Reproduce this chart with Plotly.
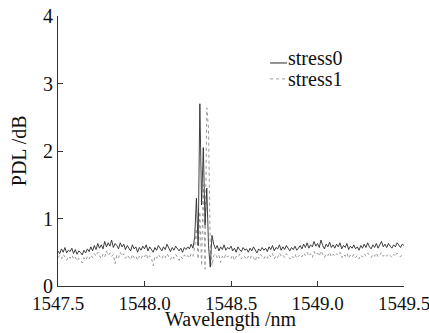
import numpy as np
import plotly.graph_objects as go

# wavelength sampling grid (nm), 0.01 nm step
wavelength = np.round(np.linspace(1547.5, 1549.5, 201), 3)

stress0 = [
    0.52,0.48,0.55,0.50,0.57,0.49,0.53,0.51,0.56,0.48,
    0.54,0.47,0.52,0.50,0.46,0.53,0.49,0.55,0.51,0.58,
    0.52,0.60,0.54,0.63,0.56,0.61,0.55,0.66,0.58,0.64,
    0.59,0.68,0.57,0.63,0.60,0.55,0.64,0.58,0.62,0.54,
    0.60,0.56,0.52,0.61,0.55,0.58,0.50,0.57,0.53,0.59,
    0.55,0.61,0.52,0.58,0.54,0.50,0.57,0.53,0.60,0.56,
    0.52,0.58,0.54,0.62,0.55,0.51,0.57,0.53,0.59,0.55,
    0.52,0.56,0.50,0.57,0.54,0.58,0.55,0.62,0.56,0.72,
    1.30,0.60,2.70,1.20,2.05,0.90,1.45,0.60,0.28,0.75,
    0.62,0.55,0.60,0.52,0.58,0.54,0.61,0.53,0.57,0.55,
    0.59,0.52,0.56,0.50,0.58,0.54,0.51,0.57,0.53,0.55,
    0.50,0.56,0.52,0.58,0.54,0.49,0.55,0.52,0.57,0.53,
    0.56,0.51,0.58,0.54,0.60,0.52,0.57,0.55,0.61,0.53,
    0.58,0.54,0.60,0.55,0.52,0.57,0.54,0.59,0.53,0.56,
    0.60,0.55,0.62,0.57,0.64,0.56,0.61,0.58,0.66,0.59,
    0.63,0.57,0.68,0.60,0.55,0.62,0.58,0.65,0.57,0.61,
    0.56,0.62,0.58,0.64,0.55,0.60,0.57,0.63,0.54,0.59,
    0.56,0.61,0.55,0.58,0.53,0.60,0.56,0.62,0.57,0.64,
    0.58,0.55,0.61,0.57,0.63,0.56,0.60,0.66,0.58,0.62,
    0.57,0.63,0.59,0.56,0.61,0.58,0.64,0.60,0.57,0.62,
    0.60,
]

stress1 = [
    0.42,0.45,0.40,0.47,0.43,0.38,0.44,0.41,0.46,0.40,
    0.43,0.37,0.41,0.39,0.34,0.42,0.38,0.44,0.40,0.46,
    0.42,0.48,0.44,0.50,0.45,0.40,0.47,0.43,0.52,0.45,
    0.49,0.44,0.47,0.33,0.46,0.42,0.50,0.44,0.48,0.41,
    0.46,0.43,0.39,0.47,0.42,0.45,0.38,0.44,0.40,0.46,
    0.43,0.48,0.40,0.45,0.42,0.30,0.44,0.41,0.47,0.43,
    0.40,0.46,0.42,0.48,0.43,0.39,0.45,0.41,0.47,0.42,
    0.38,0.44,0.40,0.46,0.42,0.45,0.41,0.48,0.44,0.58,
    0.85,0.40,1.10,0.30,1.50,0.25,2.64,2.34,0.60,0.30,
    0.45,0.48,0.42,0.46,0.35,0.44,0.40,0.47,0.43,0.45,
    0.41,0.46,0.38,0.44,0.42,0.47,0.40,0.45,0.43,0.39,
    0.44,0.40,0.46,0.42,0.37,0.45,0.41,0.47,0.43,0.40,
    0.45,0.41,0.47,0.43,0.48,0.40,0.45,0.42,0.49,0.44,
    0.46,0.42,0.48,0.43,0.40,0.45,0.42,0.47,0.41,0.44,
    0.47,0.43,0.49,0.45,0.50,0.44,0.48,0.42,0.51,0.46,
    0.49,0.44,0.52,0.47,0.42,0.48,0.45,0.50,0.43,0.47,
    0.44,0.48,0.45,0.50,0.42,0.47,0.44,0.49,0.41,0.46,
    0.43,0.47,0.42,0.45,0.40,0.46,0.43,0.48,0.44,0.49,
    0.45,0.42,0.47,0.44,0.49,0.43,0.46,0.50,0.44,0.47,
    0.44,0.48,0.45,0.42,0.47,0.44,0.49,0.46,0.43,0.47,
    0.46,
]

x_ticks = [1547.5, 1548.0, 1548.5, 1549.0, 1549.5]
x_ticklabels = ["1547.5", "1548.0", "1548.5", "1549.0", "1549.5"]
y_ticks = [0, 1, 2, 3, 4]
series_names = ["stress0", "stress1"]
x_title = "Wavelength /nm"
y_title = "PDL /dB"

FONT = "Liberation Serif"
FS = 20
TFS = 19
c0 = "#2a2a2a"
c1 = "#9a9a9a"
txt = "#111111"

fig = go.Figure()
fig.add_trace(go.Scatter(x=wavelength, y=stress1, mode="lines", name=series_names[1],
                         line=dict(color=c1, width=1, dash="dot"), showlegend=False))
fig.add_trace(go.Scatter(x=wavelength, y=stress0, mode="lines", name=series_names[0],
                         line=dict(color=c0, width=0.9), showlegend=False))

# manual legend (paper coords)
fig.add_shape(type="line", xref="paper", yref="paper", x0=0.613, x1=0.662, y0=0.826, y1=0.826,
              line=dict(color=c0, width=1))
fig.add_shape(type="line", xref="paper", yref="paper", x0=0.613, x1=0.662, y0=0.767, y1=0.767,
              line=dict(color=c1, width=1, dash="dot"))
fig.add_annotation(xref="paper", yref="paper", x=0.662, y=0.846, text=series_names[0],
                   showarrow=False, xanchor="left", yanchor="middle", borderpad=0,
                   font=dict(family=FONT, size=FS, color=txt))
fig.add_annotation(xref="paper", yref="paper", x=0.662, y=0.767, text=series_names[1],
                   showarrow=False, xanchor="left", yanchor="middle", borderpad=0,
                   font=dict(family=FONT, size=FS, color=txt))

# axis titles
fig.add_annotation(xref="paper", yref="paper", x=0.5, y=-0.124, text=x_title,
                   showarrow=False, xanchor="center", yanchor="middle",
                   font=dict(family=FONT, size=FS, color=txt))
fig.add_annotation(xref="paper", yref="paper", x=-0.112, y=0.50, text=y_title, textangle=-90,
                   showarrow=False, xanchor="center", yanchor="middle",
                   font=dict(family=FONT, size=FS, color=txt))

fig.update_layout(
    width=429, height=333,
    margin=dict(l=58, r=25, t=16, b=47, autoexpand=False),
    paper_bgcolor="white", plot_bgcolor="white",
    font=dict(family=FONT, size=FS, color=txt),
    xaxis=dict(range=[1547.5, 1549.5], tickvals=x_ticks, ticktext=x_ticklabels,
               ticks="inside", ticklen=5, tickcolor="#333", showline=True, linecolor="#333",
               linewidth=1, showgrid=False, zeroline=False, ticklabeloverflow="allow",
               automargin=False, tickfont=dict(family=FONT, size=TFS, color=txt)),
    yaxis=dict(range=[0, 4], tickvals=y_ticks, ticks="inside", ticklen=5, tickcolor="#333",
               showline=True, linecolor="#333", linewidth=1, showgrid=False, zeroline=False,
               ticklabeloverflow="allow", automargin=False,
               tickfont=dict(family=FONT, size=FS, color=txt)),
)

fig.write_html("out.html")
